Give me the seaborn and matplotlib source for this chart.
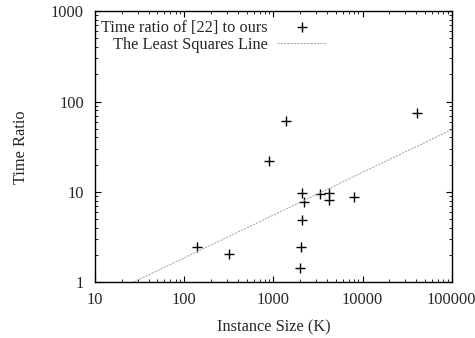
import numpy as np
import matplotlib
matplotlib.use('Agg')
import matplotlib.pyplot as plt
import seaborn as sns

# instance size (K) and time ratio
sizes = [141, 321, 900, 1395, 2109, 2218, 2109, 2055, 2005, 3327, 4170, 4236, 8070, 41000]
ratios = [2.47, 2.04, 21.7, 60.1, 9.6, 7.65, 4.84, 2.44, 1.43, 9.53, 9.77, 8.06, 8.77, 73.7]

x_ticks = [10, 100, 1000, 10000, 100000]
x_tick_labels = ['10', '100', '1000', '10000', '100000']
y_ticks = [1, 10, 100, 1000]
y_tick_labels = ['1', '10', '100', '1000']

sns.set_style('ticks')
plt.rcParams['font.family'] = ['Liberation Serif', 'DejaVu Serif']
plt.rcParams['font.size'] = 11.8

fig = plt.figure(figsize=(4.75, 3.38), dpi=100)
ax = fig.add_axes([0.2, 0.165, 0.751, 0.802])

# least squares fit in log-log space
b, a = np.polyfit(np.log10(sizes), np.log10(ratios), 1)
x_line = np.array([10.0, 100000.0])
y_line = 10 ** (a + b * np.log10(x_line))

sns.scatterplot(x=sizes, y=ratios, marker='+', s=48, color='black',
                linewidth=1.0, label='Time ratio of [22] to ours', ax=ax, legend=False)
sns.lineplot(x=x_line, y=y_line, color='#a3a3a3', linewidth=0.7,
             linestyle=(0, (2.2, 1.2)), label='The Least Squares Line', ax=ax, legend=False)

ax.set_xscale('log')
ax.set_yscale('log')
ax.set_xlim(10, 100000)
ax.set_ylim(1, 1000)
ax.set_xticks(x_ticks)
ax.set_xticklabels(x_tick_labels)
ax.set_yticks(y_ticks)
ax.set_yticklabels(y_tick_labels)

ax.tick_params(which='both', direction='in', top=True, right=True, color='black')
ax.tick_params(which='major', length=4, width=0.8)
ax.tick_params(which='minor', length=2, width=0.6)
ax.tick_params(axis='y', which='major', pad=8)
ax.tick_params(axis='x', which='major', pad=7)
for sp in ax.spines.values():
    sp.set_color('black')
    sp.set_linewidth(1.0)

ax.set_xlabel('Instance Size (K)', labelpad=8)
ax.set_ylabel('Time Ratio', labelpad=15.5)

h, l = ax.get_legend_handles_labels()
ax.legend(h, l, loc='upper left', bbox_to_anchor=(0.018, 0.969), frameon=False,
          markerfirst=False, handlelength=3.0, handletextpad=0.55,
          borderpad=0, borderaxespad=0, labelspacing=0.1)

fig.savefig('out.png', dpi=100)
